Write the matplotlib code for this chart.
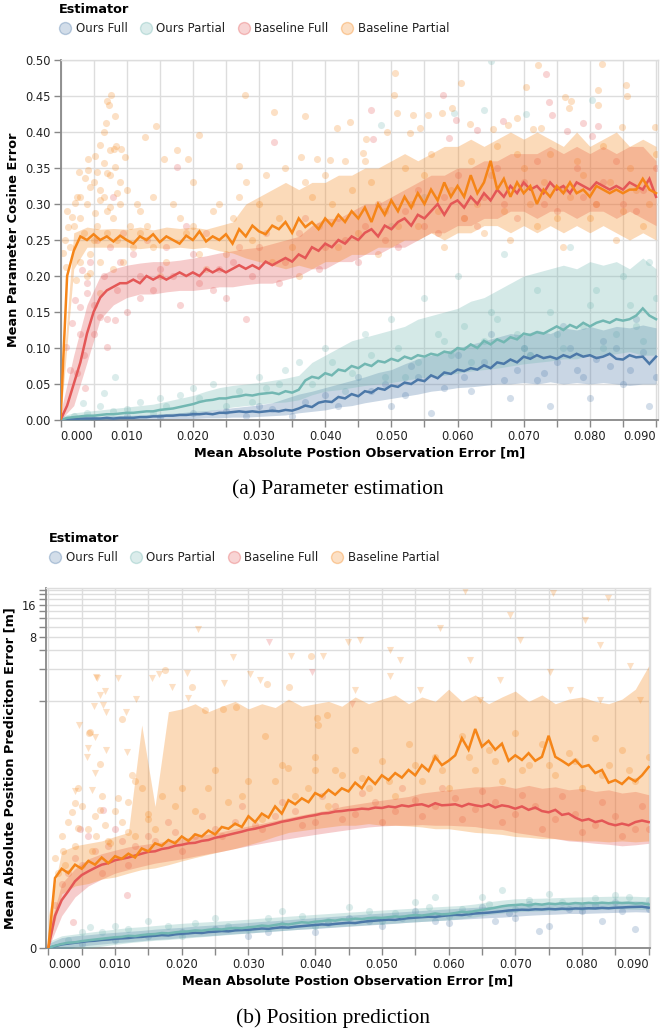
import numpy as np
import matplotlib
matplotlib.use("Agg")
import matplotlib.pyplot as plt
from matplotlib.lines import Line2D

# ---------------- DATA ----------------
SERIES = ["Ours Full", "Ours Partial", "Baseline Full", "Baseline Partial"]
COLORS = ["#4c78a8", "#72b7b2", "#e45756", "#f58518"]

XL = np.round(np.arange(0, 0.0905, 0.001), 4)   # line sample positions
XB = np.round(np.arange(0, 0.0905, 0.002), 4)   # band sample positions

# ---- (a) Parameter estimation: mean lines ----
OF_a = [0.0, 0.001, 0.001, 0.002, 0.002, 0.002, 0.002, 0.003, 0.002, 0.003, 0.003,
        0.003, 0.004, 0.004, 0.005, 0.005, 0.006, 0.006, 0.007, 0.007, 0.008,
        0.008, 0.009, 0.008, 0.01, 0.01, 0.011, 0.012, 0.011, 0.012, 0.011,
        0.012, 0.013, 0.012, 0.014, 0.013, 0.016, 0.02, 0.018, 0.024, 0.026,
        0.025, 0.032, 0.03, 0.036, 0.033, 0.04, 0.038, 0.044, 0.042, 0.048,
        0.046, 0.052, 0.05, 0.056, 0.054, 0.062, 0.058, 0.066, 0.064, 0.07,
        0.068, 0.072, 0.07, 0.076, 0.072, 0.08, 0.078, 0.084, 0.08, 0.088,
        0.085, 0.09, 0.086, 0.088, 0.085, 0.09, 0.087, 0.092, 0.088, 0.09,
        0.086, 0.088, 0.092, 0.085, 0.084, 0.09, 0.087, 0.088, 0.078, 0.088]
OP_a = [0.0, 0.003, 0.004, 0.005, 0.006, 0.006, 0.007, 0.008, 0.008, 0.009, 0.01,
        0.01, 0.011, 0.012, 0.012, 0.014, 0.015, 0.016, 0.018, 0.02, 0.022,
        0.025, 0.027, 0.028, 0.03, 0.03, 0.032, 0.033, 0.035, 0.034, 0.036,
        0.037, 0.038, 0.036, 0.04, 0.038, 0.042, 0.055, 0.06, 0.058, 0.065,
        0.062, 0.07, 0.068, 0.075, 0.072, 0.078, 0.075, 0.082, 0.08, 0.085,
        0.082, 0.088, 0.085, 0.09, 0.088, 0.092, 0.09, 0.095, 0.093, 0.1,
        0.098, 0.105, 0.1, 0.11, 0.105, 0.112, 0.108, 0.115, 0.112, 0.12,
        0.118, 0.122, 0.12, 0.125, 0.13, 0.125, 0.132, 0.128, 0.135, 0.13,
        0.135, 0.138, 0.135, 0.14, 0.138, 0.14, 0.145, 0.155, 0.145, 0.14]
BF_a = [0.0, 0.02, 0.05, 0.08, 0.12, 0.15, 0.17, 0.18, 0.185, 0.19, 0.19,
        0.195, 0.19, 0.2, 0.195, 0.2, 0.195, 0.2, 0.205, 0.2, 0.205,
        0.2, 0.21, 0.205, 0.21, 0.205, 0.21, 0.215, 0.21, 0.215, 0.21,
        0.22, 0.215, 0.22, 0.225, 0.22, 0.23, 0.225, 0.24, 0.235, 0.245,
        0.24, 0.25, 0.245, 0.255, 0.25, 0.26, 0.265, 0.255, 0.27, 0.265,
        0.275, 0.28, 0.27, 0.285, 0.28, 0.29, 0.3, 0.285, 0.3, 0.305,
        0.295, 0.31, 0.3, 0.315, 0.305, 0.32, 0.31, 0.325, 0.315, 0.33,
        0.32, 0.325, 0.315, 0.33, 0.32, 0.325, 0.315, 0.33, 0.325, 0.32,
        0.33, 0.325, 0.32, 0.325, 0.32, 0.33, 0.325, 0.32, 0.335, 0.31]
BP_a = [0.0, 0.2, 0.235, 0.255, 0.25, 0.258, 0.25, 0.255, 0.248, 0.256, 0.25,
        0.245, 0.255, 0.25, 0.258, 0.247, 0.255, 0.25, 0.245, 0.256, 0.25,
        0.262, 0.248, 0.255, 0.25, 0.258, 0.245, 0.265, 0.255, 0.27, 0.262,
        0.258, 0.27, 0.265, 0.275, 0.26, 0.28, 0.268, 0.275, 0.265, 0.28,
        0.27, 0.285, 0.275, 0.29, 0.28, 0.295, 0.275, 0.3, 0.285, 0.305,
        0.29, 0.31, 0.295, 0.315, 0.3, 0.32, 0.305, 0.33, 0.31, 0.325,
        0.31, 0.34, 0.315, 0.33, 0.36, 0.32, 0.335, 0.31, 0.33, 0.315,
        0.325, 0.3, 0.32, 0.31, 0.325, 0.315, 0.33, 0.315, 0.32, 0.31,
        0.325, 0.32, 0.315, 0.32, 0.315, 0.32, 0.32, 0.335, 0.32, 0.315]

# ---- (a) bands ----
OF_lo_a = [0, 0, 0, 0, 0, 0.001, 0.001, 0.001, 0.002, 0.002,
           0.002, 0.003, 0.003, 0.004, 0.004, 0.005, 0.006, 0.007, 0.01, 0.012,
           0.014, 0.018, 0.02, 0.024, 0.027, 0.03, 0.033, 0.036, 0.04, 0.042,
           0.045, 0.046, 0.048, 0.05, 0.05, 0.052, 0.05, 0.053, 0.05, 0.052,
           0.05, 0.052, 0.05, 0.048, 0.05, 0.05]
OF_hi_a = [0.003, 0.004, 0.005, 0.005, 0.006, 0.006, 0.007, 0.008, 0.009, 0.01,
           0.012, 0.013, 0.015, 0.017, 0.019, 0.021, 0.024, 0.03, 0.036, 0.04,
           0.045, 0.05, 0.055, 0.06, 0.066, 0.07, 0.078, 0.085, 0.09, 0.095,
           0.1, 0.105, 0.11, 0.115, 0.12, 0.118, 0.125, 0.12, 0.128, 0.125,
           0.13, 0.125, 0.13, 0.128, 0.132, 0.128]
OP_lo_a = [0, 0, 0, 0.001, 0.002, 0.003, 0.004, 0.005, 0.006, 0.008,
           0.01, 0.012, 0.015, 0.018, 0.02, 0.022, 0.024, 0.025, 0.028, 0.035,
           0.04, 0.042, 0.045, 0.048, 0.05, 0.052, 0.055, 0.058, 0.06, 0.062,
           0.065, 0.068, 0.07, 0.072, 0.075, 0.078, 0.08, 0.082, 0.085, 0.085,
           0.09, 0.09, 0.092, 0.095, 0.09, 0.09]
OP_hi_a = [0.005, 0.01, 0.012, 0.014, 0.016, 0.018, 0.02, 0.022, 0.026, 0.03,
           0.034, 0.04, 0.045, 0.048, 0.05, 0.052, 0.055, 0.058, 0.062, 0.08,
           0.09, 0.1, 0.11, 0.115, 0.12, 0.125, 0.13, 0.14, 0.145, 0.15,
           0.155, 0.165, 0.17, 0.18, 0.19, 0.2, 0.205, 0.21, 0.215, 0.21,
           0.22, 0.215, 0.22, 0.21, 0.225, 0.21]
BF_lo_a = [0, 0.02, 0.08, 0.14, 0.16, 0.17, 0.175, 0.175, 0.178, 0.18,
           0.18, 0.182, 0.185, 0.185, 0.188, 0.19, 0.19, 0.195, 0.2, 0.21,
           0.21, 0.22, 0.22, 0.23, 0.23, 0.24, 0.24, 0.25, 0.26, 0.26,
           0.27, 0.27, 0.28, 0.28, 0.29, 0.29, 0.28, 0.29, 0.29, 0.28,
           0.29, 0.29, 0.28, 0.29, 0.28, 0.27]
BF_hi_a = [0.01, 0.09, 0.16, 0.2, 0.21, 0.215, 0.218, 0.22, 0.22, 0.222,
           0.225, 0.228, 0.232, 0.235, 0.238, 0.24, 0.245, 0.25, 0.255, 0.27,
           0.28, 0.28, 0.29, 0.3, 0.3, 0.31, 0.32, 0.33, 0.34, 0.34,
           0.35, 0.35, 0.36, 0.36, 0.37, 0.37, 0.37, 0.38, 0.37, 0.38,
           0.37, 0.38, 0.37, 0.38, 0.38, 0.36]
BP_lo_a = [0, 0.21, 0.24, 0.24, 0.24, 0.24, 0.238, 0.24, 0.238, 0.24,
           0.238, 0.24, 0.235, 0.232, 0.225, 0.22, 0.215, 0.21, 0.215, 0.21,
           0.22, 0.22, 0.23, 0.23, 0.24, 0.24, 0.25, 0.25, 0.26, 0.25,
           0.26, 0.26, 0.27, 0.27, 0.26, 0.27, 0.26, 0.27, 0.26, 0.27,
           0.26, 0.27, 0.26, 0.25, 0.26, 0.25]
BP_hi_a = [0.02, 0.26, 0.268, 0.265, 0.266, 0.265, 0.268, 0.264, 0.268, 0.266,
           0.268, 0.265, 0.27, 0.275, 0.3, 0.31, 0.32, 0.33, 0.32, 0.33,
           0.33, 0.34, 0.34, 0.35, 0.35, 0.36, 0.37, 0.36, 0.37, 0.38,
           0.38, 0.39, 0.38, 0.39, 0.4, 0.39, 0.4, 0.39, 0.38, 0.4,
           0.38, 0.39, 0.4, 0.38, 0.39, 0.38]

# ---- (a) individual runs (scatter) ----
OF_sx_a = [0.02, 0.03, 0.035, 0.04, 0.045, 0.05, 0.053, 0.056, 0.06, 0.062, 0.065, 0.068,
           0.07, 0.072, 0.074, 0.076, 0.078, 0.08, 0.082, 0.085, 0.087, 0.089, 0.09,
           0.005, 0.01, 0.015, 0.025, 0.028, 0.032, 0.037, 0.042, 0.047, 0.049, 0.052,
           0.054, 0.058, 0.061, 0.064, 0.067, 0.069, 0.071, 0.073, 0.075, 0.077, 0.079,
           0.081, 0.083, 0.084, 0.086, 0.088]
OF_sy_a = [0.01, 0.02, 0.005, 0.035, 0.06, 0.02, 0.075, 0.01, 0.09, 0.04, 0.12, 0.03,
           0.1, 0.055, 0.02, 0.13, 0.07, 0.03, 0.11, 0.05, 0.14, 0.02, 0.06,
           0.002, 0.005, 0.004, 0.012, 0.006, 0.015, 0.025, 0.02, 0.04, 0.05, 0.035,
           0.06, 0.045, 0.06, 0.08, 0.055, 0.07, 0.09, 0.065, 0.08, 0.1, 0.06,
           0.085, 0.075, 0.1, 0.07, 0.095]
OP_sx_a = [0.0651, 0.064, 0.0703, 0.0804, 0.0485, 0.0594, 0.0082, 0.0065, 0.0034,
           0.01, 0.015, 0.02, 0.025, 0.03, 0.033, 0.036, 0.04, 0.043, 0.046, 0.05, 0.052,
           0.055, 0.058, 0.06, 0.062, 0.065, 0.067, 0.07, 0.072, 0.075, 0.077, 0.08, 0.082,
           0.085, 0.087, 0.09, 0.089, 0.055, 0.05,
           0.002, 0.004, 0.006, 0.008, 0.012, 0.014, 0.016, 0.018, 0.021, 0.023, 0.027,
           0.029, 0.031, 0.034, 0.038, 0.041, 0.044, 0.047, 0.049, 0.051, 0.054, 0.057,
           0.059, 0.061, 0.064, 0.066, 0.069, 0.071, 0.074, 0.076, 0.079, 0.081, 0.084,
           0.086, 0.088]
OP_sy_a = [0.498, 0.431, 0.425, 0.444, 0.41, 0.427, 0.06, 0.037, 0.023,
           0.015, 0.03, 0.045, 0.02, 0.06, 0.05, 0.08, 0.1, 0.04, 0.12, 0.14, 0.06,
           0.17, 0.11, 0.2, 0.08, 0.15, 0.23, 0.1, 0.18, 0.12, 0.24, 0.16, 0.1,
           0.2, 0.13, 0.17, 0.22, 0.31, 0.27,
           0.005, 0.01, 0.02, 0.012, 0.025, 0.01, 0.02, 0.035, 0.03, 0.05, 0.04,
           0.025, 0.045, 0.07, 0.05, 0.08, 0.065, 0.09, 0.06, 0.1, 0.08, 0.12,
           0.09, 0.13, 0.11, 0.14, 0.12, 0.09, 0.15, 0.1, 0.13, 0.18, 0.12,
           0.16, 0.11]
BF_sx_a = [0.0323, 0.0176, 0.0469, 0.0578, 0.0733, 0.0738, 0.0743, 0.0669, 0.0789, 0.0813,
           0.0472, 0.0587, 0.0598, 0.0766, 0.0804, 0.0629,
           0.0032, 0.0022, 0.0017, 0.0009, 0.0014, 0.0037, 0.0029, 0.004, 0.005, 0.007,
           0.006, 0.0082, 0.008, 0.004, 0.0025,
           0.012, 0.015, 0.018, 0.02, 0.023, 0.026, 0.028, 0.03, 0.033, 0.036, 0.039, 0.042,
           0.045, 0.048, 0.051, 0.054, 0.057, 0.06, 0.063, 0.066, 0.069, 0.072, 0.075,
           0.078, 0.081, 0.084, 0.087, 0.09,
           0.003, 0.0035, 0.0045, 0.005, 0.0055, 0.0065, 0.007, 0.0075, 0.0085, 0.009,
           0.0095, 0.01, 0.011, 0.012, 0.013, 0.014, 0.016, 0.017, 0.019, 0.021, 0.022,
           0.024, 0.025, 0.027, 0.029, 0.031, 0.034, 0.037, 0.04, 0.043, 0.046, 0.049,
           0.052, 0.055, 0.058, 0.061, 0.064, 0.067, 0.07, 0.073, 0.076, 0.079, 0.082,
           0.085, 0.088]
BF_sy_a = [0.386, 0.351, 0.43, 0.451, 0.48, 0.442, 0.424, 0.415, 0.413, 0.408,
           0.39, 0.391, 0.417, 0.402, 0.394, 0.403,
           0.208, 0.167, 0.135, 0.102, 0.069, 0.044, 0.157, 0.176, 0.12, 0.102,
           0.143, 0.139, 0.31, 0.19, 0.065,
           0.17, 0.21, 0.16, 0.23, 0.18, 0.22, 0.14, 0.24, 0.19, 0.26, 0.21, 0.28,
           0.22, 0.3, 0.24, 0.32, 0.26, 0.34, 0.27, 0.35, 0.28, 0.36, 0.29,
           0.35, 0.3, 0.36, 0.29, 0.35,
           0.12, 0.09, 0.22, 0.16, 0.25, 0.2, 0.14, 0.24, 0.18, 0.22,
           0.26, 0.15, 0.23, 0.2, 0.25, 0.18, 0.24, 0.2, 0.27, 0.19, 0.26,
           0.21, 0.17, 0.24, 0.2, 0.26, 0.22, 0.28, 0.24, 0.25, 0.27, 0.25,
           0.29, 0.27, 0.31, 0.28, 0.31, 0.3, 0.33, 0.3, 0.32, 0.31, 0.33,
           0.3, 0.32]
BP_sx_a = [0.0076, 0.007, 0.0074, 0.0083, 0.0069, 0.0065, 0.0144, 0.0127, 0.0209, 0.0279,
           0.0323, 0.037, 0.0418, 0.0437, 0.0081, 0.0092, 0.0052, 0.0042, 0.0097, 0.0156,
           0.0176, 0.0192, 0.027, 0.0363, 0.0387, 0.0407,
           0.0505, 0.0721, 0.0819, 0.0855, 0.0812, 0.0703, 0.0605, 0.0504, 0.0762, 0.0772,
           0.0769, 0.0812, 0.0856, 0.0509, 0.0533, 0.0556, 0.0576, 0.0592, 0.069, 0.0676,
           0.0898, 0.0849, 0.0726, 0.0714, 0.0654, 0.0619, 0.0544, 0.0528, 0.0493, 0.0461,
           0.0457,
           0.0055, 0.0042, 0.0028, 0.0065, 0.007, 0.0037, 0.0045, 0.0029, 0.0022, 0.0017,
           0.0012, 0.0007, 0.0004, 0.0009, 0.0024, 0.0045, 0.006, 0.0052, 0.0075, 0.006,
           0.0085, 0.0082, 0.0075, 0.0084, 0.006,
           0.012, 0.014, 0.016, 0.018, 0.02, 0.022, 0.024, 0.026, 0.015, 0.019, 0.013,
           0.021, 0.028, 0.03, 0.032, 0.034, 0.036, 0.038, 0.04, 0.042, 0.044, 0.046,
           0.048, 0.052, 0.054, 0.056, 0.058, 0.062, 0.064, 0.066, 0.068, 0.07, 0.072,
           0.074, 0.076, 0.078, 0.08, 0.082, 0.084, 0.086, 0.088, 0.09,
           0.001, 0.0015, 0.002, 0.0025, 0.003, 0.0035, 0.004, 0.0045, 0.005, 0.0055,
           0.006, 0.0065, 0.007, 0.0075, 0.008, 0.0085, 0.009, 0.0095, 0.01, 0.0105,
           0.011, 0.0115, 0.012, 0.003, 0.004, 0.005, 0.006, 0.007, 0.008, 0.009,
           0.014, 0.017, 0.02, 0.023, 0.025, 0.027, 0.029, 0.031, 0.033, 0.035, 0.037,
           0.039, 0.041, 0.043, 0.045, 0.047, 0.049, 0.051, 0.053, 0.055, 0.057, 0.059,
           0.061, 0.063, 0.065, 0.067, 0.069, 0.071, 0.073, 0.075, 0.077, 0.079, 0.081,
           0.083, 0.085, 0.087, 0.089]
BP_sy_a = [0.451, 0.443, 0.4375, 0.422, 0.412, 0.4, 0.409, 0.393, 0.396, 0.451,
           0.428, 0.422, 0.405, 0.414, 0.376, 0.377, 0.367, 0.362, 0.365, 0.363,
           0.375, 0.362, 0.353, 0.365, 0.362, 0.361,
           0.482, 0.493, 0.494, 0.465, 0.458, 0.463, 0.468, 0.452, 0.448, 0.443,
           0.434, 0.4375, 0.45, 0.426, 0.423, 0.424, 0.426, 0.433, 0.42, 0.41,
           0.407, 0.407, 0.405, 0.404, 0.404, 0.411, 0.406, 0.398, 0.4, 0.39,
           0.371,
           0.345, 0.347, 0.345, 0.357, 0.343, 0.336, 0.324, 0.31, 0.301, 0.282,
           0.268, 0.25, 0.232, 0.213, 0.194, 0.204, 0.176, 0.287, 0.296, 0.306,
           0.315, 0.352, 0.375, 0.38, 0.382,
           0.29, 0.31, 0.22, 0.28, 0.33, 0.21, 0.3, 0.28, 0.2, 0.26, 0.27,
           0.23, 0.33, 0.3, 0.22, 0.35, 0.2, 0.31, 0.34, 0.24, 0.32, 0.36,
           0.23, 0.35, 0.27, 0.37, 0.24, 0.36, 0.26, 0.38, 0.25, 0.35, 0.27,
           0.37, 0.24, 0.36, 0.28, 0.38, 0.25, 0.35, 0.27, 0.37,
           0.29, 0.24, 0.27, 0.31, 0.28, 0.26, 0.3, 0.23, 0.33, 0.27,
           0.22, 0.31, 0.26, 0.34, 0.28, 0.25, 0.3, 0.22, 0.32, 0.27,
           0.24, 0.3, 0.26, 0.22, 0.2, 0.25, 0.32, 0.29, 0.21, 0.33,
           0.24, 0.3, 0.27, 0.29, 0.23, 0.31, 0.25, 0.34, 0.28, 0.24, 0.33,
           0.27, 0.3, 0.36, 0.26, 0.33, 0.29, 0.27, 0.3, 0.34, 0.29, 0.32,
           0.28, 0.3, 0.34, 0.29, 0.37, 0.3, 0.33, 0.28, 0.31, 0.34, 0.3,
           0.33, 0.29, 0.32, 0.3]

# ---- (b) Position prediction: mean lines ----
OF_b = [0.0, 0.0004, 0.0008, 0.001, 0.0012, 0.0014, 0.0016, 0.0017, 0.0019, 0.002, 0.0022,
        0.0023, 0.0024, 0.0026, 0.0027, 0.0029, 0.003, 0.0032, 0.0031, 0.0034, 0.0036,
        0.0037, 0.0039, 0.0038, 0.0041, 0.0042, 0.0044, 0.0043, 0.0046, 0.0047, 0.0048,
        0.005, 0.0052, 0.0051, 0.0054, 0.0056, 0.0055, 0.0058, 0.006, 0.0062, 0.0064,
        0.0066, 0.0065, 0.0068, 0.007, 0.0072, 0.0071, 0.0075, 0.0078, 0.008, 0.0082,
        0.0084, 0.0083, 0.0087, 0.009, 0.0092, 0.0094, 0.0096, 0.0095, 0.0099, 0.0102,
        0.0104, 0.0103, 0.0107, 0.011, 0.0112, 0.0114, 0.0117, 0.012, 0.0124, 0.0126,
        0.0128, 0.0127, 0.013, 0.0129, 0.0132, 0.013, 0.0133, 0.0131, 0.0134, 0.0133,
        0.0135, 0.0134, 0.0137, 0.0135, 0.0138, 0.0139, 0.0141, 0.0142, 0.0143, 0.0138]
OP_b = [0.0, 0.0005, 0.0009, 0.0012, 0.0013, 0.0016, 0.0018, 0.002, 0.0022, 0.0024, 0.0026,
        0.0027, 0.003, 0.0029, 0.0032, 0.0034, 0.0035, 0.0038, 0.0037, 0.004, 0.0042,
        0.0043, 0.0046, 0.0045, 0.0048, 0.005, 0.0049, 0.0052, 0.0054, 0.0053, 0.0056,
        0.0058, 0.0062, 0.006, 0.0064, 0.0068, 0.0066, 0.007, 0.0074, 0.0072, 0.0076,
        0.0078, 0.0082, 0.008, 0.0085, 0.0084, 0.0088, 0.0086, 0.009, 0.0092, 0.0091,
        0.0094, 0.0097, 0.0095, 0.01, 0.0103, 0.0101, 0.0105, 0.011, 0.0106, 0.0108,
        0.0112, 0.0118, 0.0115, 0.0122, 0.0126, 0.0132, 0.0138, 0.0145, 0.015, 0.0152,
        0.0155, 0.015, 0.0158, 0.0154, 0.016, 0.0157, 0.0162, 0.0158, 0.0163, 0.016,
        0.0164, 0.0161, 0.0165, 0.0162, 0.0166, 0.0163, 0.0165, 0.016, 0.0162, 0.0155]
BF_b = [0.0, 0.01, 0.018, 0.024, 0.032, 0.038, 0.042, 0.046, 0.05, 0.052, 0.056,
        0.058, 0.06, 0.063, 0.066, 0.069, 0.07, 0.074, 0.076, 0.08, 0.082,
        0.085, 0.086, 0.09, 0.092, 0.097, 0.1, 0.104, 0.108, 0.112, 0.117,
        0.12, 0.125, 0.13, 0.135, 0.141, 0.145, 0.15, 0.155, 0.16, 0.164,
        0.17, 0.172, 0.178, 0.18, 0.184, 0.186, 0.19, 0.188, 0.195, 0.193,
        0.2, 0.196, 0.205, 0.2, 0.207, 0.21, 0.2, 0.215, 0.205, 0.207,
        0.21, 0.2, 0.212, 0.205, 0.2, 0.21, 0.195, 0.205, 0.2, 0.19,
        0.2, 0.185, 0.195, 0.18, 0.175, 0.185, 0.165, 0.17, 0.155, 0.145,
        0.15, 0.14, 0.145, 0.135, 0.13, 0.135, 0.13, 0.14, 0.145, 0.14]
BP_b = [0.0, 0.035, 0.045, 0.04, 0.05, 0.045, 0.055, 0.05, 0.06, 0.052, 0.062,
        0.058, 0.066, 0.06, 0.075, 0.07, 0.085, 0.08, 0.092, 0.085, 0.1,
        0.09, 0.105, 0.1, 0.115, 0.105, 0.125, 0.12, 0.135, 0.125, 0.16,
        0.14, 0.17, 0.155, 0.2, 0.17, 0.23, 0.21, 0.24, 0.22, 0.27,
        0.25, 0.29, 0.26, 0.3, 0.28, 0.34, 0.3, 0.38, 0.33, 0.4,
        0.36, 0.42, 0.38, 0.45, 0.4, 0.5, 0.44, 0.6, 0.5, 0.55,
        0.62, 0.9, 0.7, 1.1, 0.75, 0.85, 0.7, 0.8, 0.55, 0.62,
        0.56, 0.65, 0.55, 0.6, 0.95, 0.6, 0.55, 0.5, 0.56, 0.48,
        0.5, 0.42, 0.45, 0.34, 0.36, 0.33, 0.38, 0.35, 0.4, 0.48]

# ---- (b) bands ----
OF_lo_b = [-0.001, -0.0008, 0.0002, 0.0006, 0.0009, 0.0012, 0.0014, 0.0017, 0.002, 0.0022,
           0.0025, 0.0028, 0.003, 0.0033, 0.0036, 0.0038, 0.0041, 0.0044, 0.0047, 0.005,
           0.0052, 0.0055, 0.0058, 0.0061, 0.0064, 0.0067, 0.007, 0.0074, 0.0077, 0.008,
           0.0083, 0.0086, 0.0089, 0.0092, 0.0094, 0.0098, 0.0102, 0.0105, 0.0107, 0.011,
           0.011, 0.0112, 0.0114, 0.0116, 0.0118, 0.0116]
OF_hi_b = [0.001, 0.0025, 0.003, 0.0033, 0.0037, 0.004, 0.0043, 0.0046, 0.005, 0.0053,
           0.0056, 0.006, 0.0063, 0.0066, 0.007, 0.0073, 0.0077, 0.008, 0.0084, 0.0088,
           0.0092, 0.0096, 0.01, 0.0104, 0.0108, 0.0112, 0.0116, 0.012, 0.0124, 0.0128,
           0.0132, 0.0136, 0.014, 0.0144, 0.0148, 0.0152, 0.0156, 0.016, 0.0162, 0.0165,
           0.0166, 0.0168, 0.017, 0.0172, 0.0175, 0.0172]
OP_lo_b = [-0.0015, -0.001, -0.0005, 0.0, 0.0004, 0.0008, 0.0012, 0.0015, 0.0018, 0.002,
           0.0023, 0.0026, 0.0029, 0.0032, 0.0035, 0.0038, 0.0041, 0.0044, 0.0047, 0.005,
           0.0053, 0.0056, 0.0059, 0.0062, 0.0065, 0.0068, 0.0071, 0.0074, 0.0077, 0.008,
           0.0083, 0.0088, 0.0095, 0.0105, 0.0112, 0.0118, 0.012, 0.0122, 0.0124, 0.0126,
           0.0128, 0.013, 0.0131, 0.0132, 0.013, 0.0128]
OP_hi_b = [0.0015, 0.003, 0.0035, 0.004, 0.0045, 0.005, 0.0055, 0.0058, 0.0062, 0.0066,
           0.007, 0.0073, 0.0076, 0.0079, 0.0082, 0.0086, 0.009, 0.0094, 0.0098, 0.0102,
           0.0106, 0.011, 0.0114, 0.0118, 0.0122, 0.0126, 0.013, 0.0134, 0.0138, 0.0142,
           0.0146, 0.015, 0.0158, 0.017, 0.018, 0.0188, 0.019, 0.0192, 0.0195, 0.0198,
           0.02, 0.0202, 0.0204, 0.0205, 0.0204, 0.02]
BF_lo_b = [0.0, 0.01, 0.02, 0.028, 0.034, 0.04, 0.044, 0.048, 0.052, 0.055,
           0.058, 0.062, 0.066, 0.07, 0.075, 0.08, 0.085, 0.09, 0.095, 0.1,
           0.105, 0.11, 0.115, 0.12, 0.125, 0.128, 0.13, 0.13, 0.132, 0.13,
           0.13, 0.128, 0.126, 0.12, 0.118, 0.11, 0.105, 0.1, 0.095, 0.09,
           0.088, 0.085, 0.083, 0.08, 0.082, 0.085]
BF_hi_b = [0.004, 0.03, 0.045, 0.058, 0.066, 0.072, 0.078, 0.082, 0.086, 0.09,
           0.095, 0.1, 0.106, 0.112, 0.12, 0.128, 0.136, 0.145, 0.155, 0.165,
           0.175, 0.185, 0.2, 0.21, 0.22, 0.23, 0.24, 0.25, 0.27, 0.28,
           0.29, 0.3, 0.31, 0.31, 0.32, 0.3, 0.32, 0.3, 0.31, 0.29,
           0.3, 0.28, 0.29, 0.27, 0.28, 0.26]
BP_lo_b = [0.0, 0.022, 0.028, 0.03, 0.034, 0.036, 0.04, 0.044, 0.046, 0.05,
           0.055, 0.06, 0.065, 0.07, 0.075, 0.082, 0.09, 0.1, 0.11, 0.115,
           0.12, 0.125, 0.13, 0.13, 0.135, 0.13, 0.13, 0.128, 0.125, 0.12,
           0.12, 0.115, 0.11, 0.108, 0.105, 0.1, 0.098, 0.095, 0.095, 0.092,
           0.09, 0.09, 0.088, 0.09, 0.088, 0.09]
BP_hi_b = [0.01, 0.07, 0.08, 0.085, 0.09, 0.1, 0.11, 1.2, 0.2, 1.6,
           1.7, 1.9, 1.6, 1.8, 2.0, 1.7, 1.9, 1.75, 2.1, 1.8,
           1.9, 2.0, 1.8, 2.2, 1.9, 2.1, 2.3, 1.9, 2.2, 2.0,
           2.6, 2.0, 2.3, 1.9, 2.2, 2.5, 2.0, 2.3, 1.9, 2.1,
           2.2, 2.0, 1.9, 2.1, 2.6, 4.3]

# ---- (b) individual runs (scatter) ----
OF_sx_b = [0.01, 0.02, 0.03, 0.035, 0.04, 0.045, 0.05, 0.055, 0.06, 0.065, 0.07, 0.072,
           0.075, 0.08, 0.083, 0.085, 0.088, 0.09, 0.0735, 0.067,
           0.005, 0.015, 0.025, 0.033, 0.042, 0.048, 0.053, 0.058, 0.063, 0.069, 0.078,
           0.082, 0.086]
OF_sy_b = [0.002, 0.004, 0.003, 0.0065, 0.004, 0.009, 0.006, 0.012, 0.007, 0.014, 0.009, 0.016,
           0.006, 0.012, 0.008, 0.017, 0.005, 0.013, 0.0045, 0.008,
           0.001, 0.003, 0.005, 0.004, 0.007, 0.008, 0.009, 0.008, 0.011, 0.011, 0.013,
           0.015, 0.012]
OP_sx_b = [0.005, 0.01, 0.015, 0.02, 0.025, 0.03, 0.035, 0.04, 0.045, 0.05, 0.055, 0.06,
           0.065, 0.07, 0.075, 0.08, 0.085, 0.09, 0.068, 0.058, 0.0063,
           0.003, 0.008, 0.012, 0.018, 0.022, 0.027, 0.033, 0.038, 0.042, 0.048, 0.052,
           0.057, 0.062, 0.066, 0.072, 0.077, 0.082, 0.087]
OP_sy_b = [0.004, 0.006, 0.008, 0.003, 0.009, 0.005, 0.012, 0.006, 0.014, 0.008, 0.017, 0.01,
           0.02, 0.013, 0.022, 0.014, 0.021, 0.018, 0.025, 0.02, 0.0057,
           0.002, 0.004, 0.005, 0.006, 0.007, 0.006, 0.009, 0.01, 0.008, 0.012, 0.011,
           0.014, 0.013, 0.016, 0.018, 0.017, 0.019, 0.02]
BF_sx_b = [0.002, 0.004, 0.006, 0.008, 0.01, 0.012, 0.015, 0.018, 0.02, 0.023, 0.026, 0.029,
           0.032, 0.035, 0.038, 0.041, 0.044, 0.047, 0.05, 0.053, 0.056, 0.059, 0.062, 0.065,
           0.068, 0.071, 0.074, 0.077, 0.08, 0.083, 0.086, 0.089, 0.09, 0.0082, 0.0047,
           0.0037, 0.0118,
           0.001, 0.003, 0.005, 0.007, 0.009, 0.011, 0.013, 0.016, 0.019, 0.022, 0.025,
           0.028, 0.031, 0.034, 0.037, 0.04, 0.043, 0.046, 0.049, 0.052, 0.055, 0.058,
           0.061, 0.064, 0.067, 0.07, 0.073, 0.076, 0.079, 0.082, 0.085, 0.088]
BF_sy_b = [0.03, 0.06, 0.1, 0.04, 0.12, 0.05, 0.1, 0.14, 0.07, 0.16, 0.1, 0.2,
           0.12, 0.22, 0.13, 0.25, 0.15, 0.27, 0.14, 0.3, 0.16, 0.3, 0.15, 0.28,
           0.14, 0.26, 0.12, 0.25, 0.11, 0.22, 0.1, 0.2, 0.12, 0.186, 0.12,
           0.0075, 0.021,
           0.015, 0.04, 0.05, 0.07, 0.08, 0.09, 0.08, 0.09, 0.11, 0.1, 0.12,
           0.14, 0.13, 0.16, 0.18, 0.14, 0.2, 0.17, 0.22, 0.18, 0.23, 0.2,
           0.24, 0.19, 0.22, 0.17, 0.2, 0.15, 0.17, 0.13, 0.16, 0.12]
BP_sx_b = [0.0061, 0.004, 0.0035, 0.0078, 0.0045, 0.0072, 0.0022, 0.0092, 0.0015,
           0.0063, 0.0078, 0.0111, 0.0175, 0.0215, 0.0281, 0.0235, 0.0262, 0.0328, 0.0361,
           0.0404, 0.0394, 0.0418, 0.0403, 0.0325, 0.0359, 0.0400,
           0.02, 0.022, 0.025, 0.027, 0.03, 0.032, 0.035, 0.037, 0.04, 0.042, 0.044, 0.046,
           0.048, 0.05, 0.052, 0.054, 0.056, 0.058, 0.06, 0.062, 0.064, 0.066, 0.068, 0.07,
           0.072, 0.074, 0.076, 0.078, 0.08, 0.082, 0.084, 0.086, 0.088, 0.09, 0.015,
           0.017, 0.012, 0.013,
           0.001, 0.002, 0.003, 0.004, 0.005, 0.006, 0.007, 0.008, 0.009, 0.01, 0.011,
           0.012, 0.013, 0.014, 0.015, 0.016, 0.0025, 0.0045, 0.0065, 0.0085, 0.0105,
           0.0125,
           0.019, 0.024, 0.029, 0.034, 0.039, 0.043, 0.047, 0.051, 0.055, 0.059, 0.063,
           0.067, 0.071, 0.075, 0.079, 0.083, 0.087]
BP_sy_b = [1.0, 0.216, 0.176, 0.186, 0.122, 0.1, 0.07, 0.085, 0.04,
           1.04, 0.51, 1.37, 3.9, 2.7, 1.78, 1.66, 1.7, 2.9, 2.7,
           1.2, 5.3, 1.5, 1.4, 0.95, 0.47, 0.45,
           0.3, 0.18, 0.45, 0.22, 0.35, 0.15, 0.5, 0.25, 0.6, 0.2, 0.4, 0.7,
           0.3, 0.55, 0.25, 0.8, 0.35, 0.6, 0.3, 0.95, 0.45, 0.7, 0.35, 1.0,
           0.5, 0.8, 0.4, 0.65, 0.3, 0.9, 0.5, 0.7, 0.35, 0.6, 0.15,
           0.25, 0.11, 0.35,
           0.06, 0.1, 0.14, 0.08, 0.2, 0.12, 0.16, 0.25, 0.09, 0.18, 0.14,
           0.22, 0.1, 0.3, 0.17, 0.12, 0.05, 0.3, 0.07, 0.13, 0.24,
           0.4,
           0.2, 0.3, 0.25, 0.35, 0.3, 0.45, 0.38, 0.35, 0.5, 0.45, 0.6,
           0.55, 0.45, 0.5, 0.55, 0.4, 0.45]
BP_tx_b = [0.0073, 0.0105, 0.0077, 0.0085, 0.0068, 0.0082, 0.0132, 0.0117, 0.0046, 0.007,
           0.0058, 0.0118, 0.007, 0.0065, 0.004, 0.0086, 0.0059, 0.0071, 0.0087, 0.0155,
           0.0208, 0.0166, 0.0185, 0.0209, 0.0224, 0.0263, 0.0302, 0.0277, 0.0318, 0.0364,
           0.0412, 0.0449, 0.0512, 0.0625, 0.0757, 0.0839, 0.0692, 0.0804, 0.0587, 0.0707,
           0.0827, 0.0632, 0.0872, 0.0752, 0.0512, 0.046, 0.0557, 0.0647, 0.0827, 0.0887,
           0.0467, 0.0527, 0.0677, 0.0782]
BP_ty_b = [3.3, 3.3, 2.3, 2.5, 1.8, 1.85, 2.1, 1.6, 1.2, 0.93,
           0.6, 0.66, 0.42, 0.29, 0.28, 0.7, 0.73, 3.4, 1.6, 3.3,
           3.7, 3.6, 2.7, 2.15, 9.5, 3.0, 3.6, 5.2, 3.2, 5.3,
           5.3, 7.2, 6.1, 21.6, 20.6, 18.5, 12.9, 11.5, 9.7, 7.5,
           6.7, 4.9, 4.3, 3.8, 3.45, 2.55, 2.55, 2.05, 2.05, 2.05,
           7.5, 4.9, 3.2, 2.55]
BF_tx_b = [0.0331, 0.0395, 0.0455]
BF_ty_b = [7.2, 3.8, 1.9]

FIG_W, FIG_H = 671, 1036

# ---------------- HELPERS ----------------
def sym_fwd(v):
    v = np.asarray(v, dtype=float)
    return np.sign(v) * np.log1p(np.abs(v) / 0.01)


def sym_inv(u):
    u = np.asarray(u, dtype=float)
    return np.sign(u) * 0.01 * np.expm1(np.abs(u))


def style_axes(ax):
    ax.set_facecolor("white")
    for s in ["left", "bottom"]:
        ax.spines[s].set_color("#888888")
        ax.spines[s].set_linewidth(1.3)
    for s in ["top", "right"]:
        ax.spines[s].set_color("#dddddd")
        ax.spines[s].set_linewidth(1.0)
    ax.grid(True, color="#dddddd", linewidth=1.0)
    ax.set_axisbelow(True)
    ax.tick_params(direction="out", length=5, width=1, color="#888888",
                   labelsize=8.3, labelcolor="#222222", pad=2)


def set_xticks(ax):
    ticks = np.round(np.arange(0, 0.0905, 0.005), 3)
    labels = [f"{t:.3f}" if i % 2 == 0 else "" for i, t in enumerate(ticks)]
    ax.set_xticks(ticks, labels)
    tl = ax.get_xticklabels()
    tl[0].set_horizontalalignment("left")
    tl[-1].set_horizontalalignment("right")


def draw_series(ax, means, los, his, scat):
    for (sx, sy, mk), col in zip(scat, COLORS):
        ax.scatter(sx, sy, s=26, marker=mk, color=col, alpha=0.25, linewidths=0, zorder=2)
    for lo, hi, col in zip(los, his, COLORS):
        ax.fill_between(XB, lo, hi, color=col, alpha=0.3, linewidth=0, zorder=3)
    for m, col in zip(means, COLORS):
        ax.plot(XL, m, color=col, linewidth=1.8, zorder=4, solid_joinstyle="miter")


def add_legend(fig, x_px, y_px):
    handles = [Line2D([], [], marker="o", linestyle="", markersize=8.6,
                      markerfacecolor=matplotlib.colors.to_rgba(c, 0.25),
                      markeredgecolor=matplotlib.colors.to_rgba(c, 0.35),
                      markeredgewidth=1.0) for c in COLORS]
    leg = fig.legend(handles, SERIES, title="Estimator", loc="upper left",
                     bbox_to_anchor=(x_px / FIG_W, 1 - y_px / FIG_H), ncol=4,
                     frameon=False, fontsize=8.5,
                     title_fontproperties={"weight": "bold", "size": 9.3},
                     alignment="left", handlelength=1.0, handletextpad=0.4,
                     columnspacing=1.05, borderpad=0, borderaxespad=0)
    for t in leg.get_texts():
        t.set_color("#222222")


# ---------------- FIGURE ----------------
fig = plt.figure(figsize=(FIG_W / 100, FIG_H / 100), dpi=100)

# (a)
ax1 = fig.add_axes([60.5 / FIG_W, 1 - 420 / FIG_H, 597.5 / FIG_W, 360 / FIG_H])
style_axes(ax1)
draw_series(ax1, [OF_a, OP_a, BF_a, BP_a],
            [OF_lo_a, OP_lo_a, BF_lo_a, BP_lo_a],
            [OF_hi_a, OP_hi_a, BF_hi_a, BP_hi_a],
            [(OF_sx_a, OF_sy_a, "o"), (OP_sx_a, OP_sy_a, "o"),
             (BF_sx_a, BF_sy_a, "o"), (BP_sx_a, BP_sy_a, "o")])
ax1.set_xlim(0.0, 0.0903)
ax1.set_ylim(0, 0.5)
ax1.set_yticks(np.round(np.arange(0, 0.501, 0.05), 2))
ax1.yaxis.set_major_formatter(matplotlib.ticker.FormatStrFormatter("%.2f"))
set_xticks(ax1)
ax1.set_xlabel("Mean Absolute Postion Observation Error [m]", fontsize=9.3,
               fontweight="bold", labelpad=3)
ax1.set_ylabel("Mean Parameter Cosine Error", fontsize=9.3, fontweight="bold", labelpad=4)

# (b)
ax2 = fig.add_axes([46 / FIG_W, 1 - 948 / FIG_H, 604 / FIG_W, 360 / FIG_H])
style_axes(ax2)
ax2.set_yscale("function", functions=(sym_fwd, sym_inv))
draw_series(ax2, [OF_b, OP_b, BF_b, BP_b],
            [OF_lo_b, OP_lo_b, BF_lo_b, BP_lo_b],
            [OF_hi_b, OP_hi_b, BF_hi_b, BP_hi_b],
            [(OF_sx_b, OF_sy_b, "o"), (OP_sx_b, OP_sy_b, "o"),
             (BF_sx_b, BF_sy_b, "o"), (BP_sx_b, BP_sy_b, "o")])
ax2.scatter(BP_tx_b, BP_ty_b, s=26, marker="v", color=COLORS[3], alpha=0.25, linewidths=0, zorder=2)
ax2.scatter(BF_tx_b, BF_ty_b, s=26, marker="v", color=COLORS[2], alpha=0.25, linewidths=0, zorder=2)
ax2.set_xlim(-0.00035, 0.0902)
ax2.set_ylim(0, 23)
yt = np.arange(0, 23, 2)
ax2.set_yticks(yt, [str(v) if v in (0, 8, 16) else "" for v in yt])
set_xticks(ax2)
ax2.set_xlabel("Mean Absolute Postion Observation Error [m]", fontsize=9.3,
               fontweight="bold", labelpad=3)
ax2.set_ylabel("Mean Absolute Position Prediciton Error [m]", fontsize=9.3,
               fontweight="bold", labelpad=4)

# legends
add_legend(fig, 59, 3)
add_legend(fig, 49, 532)

# captions
fig.text(338 / FIG_W, 1 - 490 / FIG_H, "(a) Parameter estimation", ha="center", va="center",
         fontfamily="Liberation Serif", fontsize=15.5)
fig.text(333 / FIG_W, 1 - 1018 / FIG_H, "(b) Position prediction", ha="center", va="center",
         fontfamily="Liberation Serif", fontsize=15.5)

fig.savefig("out.png", dpi=100, facecolor="white")
